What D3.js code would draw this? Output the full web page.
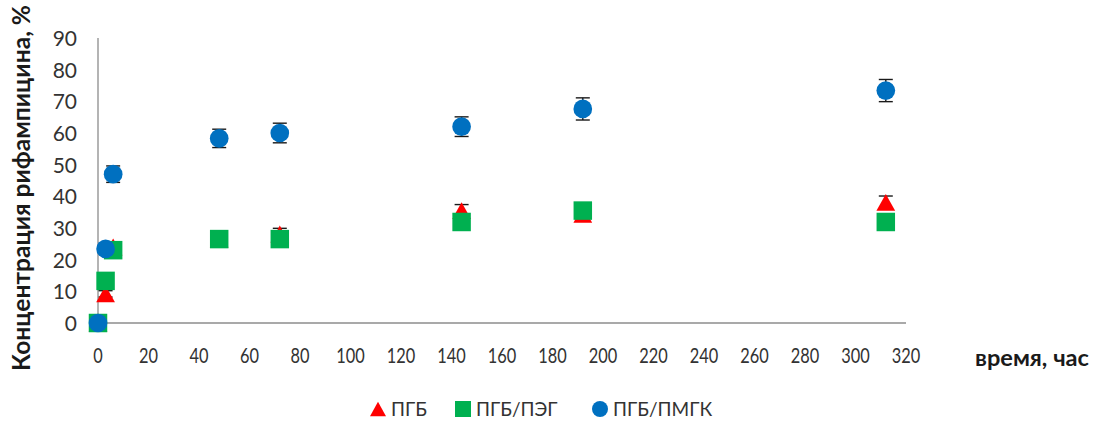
<!DOCTYPE html>
<html>
<head>
<meta charset="utf-8">
<script src="https://cdn.jsdelivr.net/npm/d3@7"></script>
<style>
  html, body { margin: 0; padding: 0; background: #fff; }
  svg { display: block; font-family: Lato, "Open Sans", sans-serif; }
</style>
</head>
<body>
<svg id="chart" width="1095" height="425"></svg>
<script>
// Sampling times, hours
const hours = [0, 3, 6, 48, 72, 144, 192, 312];

// Rifampicin concentration, % (mean and error) for each formulation
const pgbValues  = [0, 9.2, 24.0, 26.5, 28.1, 35.5, 34.3, 38.1];
const pgbErrors  = [0, 1.0, 1.5, 1.5, 1.8, 1.9, 1.5, 2.0];
const pegValues  = [0, 13.3, 23.0, 26.5, 26.5, 31.9, 35.5, 31.9];
const pegErrors  = [0, 1.0, 1.5, 1.5, 1.5, 1.5, 1.5, 1.5];
const pmgkValues = [0, 23.4, 47.0, 58.3, 60.0, 62.0, 67.6, 73.4];
const pmgkErrors = [0, 1.5, 2.6, 2.9, 3.1, 3.1, 3.5, 3.5];

const seriesNames = ["ПГБ", "ПГБ/ПЭГ", "ПГБ/ПМГК"];
const xTicks = [0, 20, 40, 60, 80, 100, 120, 140, 160, 180, 200, 220, 240, 260, 280, 300, 320];
const yTicks = [0, 10, 20, 30, 40, 50, 60, 70, 80, 90];

const yTitle = "Концентрация рифампицина, %";
const xTitle = "время, час";

// Triangle centred on its bounding box, height = 0.9 * width
const boxTriangle = {
  draw(ctx, size) {
    const w = Math.sqrt(size / 0.45), h = 0.9 * w;
    ctx.moveTo(0, -h / 2);
    ctx.lineTo(w / 2, h / 2);
    ctx.lineTo(-w / 2, h / 2);
    ctx.closePath();
  }
};

const series = [
  { name: seriesNames[0], values: pgbValues,  errors: pgbErrors,  color: "#FF0000", shape: boxTriangle,     size: 158, legendSize: 115 },
  { name: seriesNames[1], values: pegValues,  errors: pegErrors,  color: "#00B050", shape: d3.symbolSquare, size: 342, legendSize: 256 },
  { name: seriesNames[2], values: pmgkValues, errors: pmgkErrors, color: "#0070C0", shape: d3.symbolCircle, size: 275, legendSize: 201 }
];

const svg = d3.select("#chart");

const x = d3.scaleLinear().domain([0, 320]).range([98, 906]);
const y = d3.scaleLinear().domain([0, 90]).range([323, 38]);

const axisColor = "#8c8c8c";

// Axes lines
svg.append("line")
  .attr("x1", x(0)).attr("x2", x(0))
  .attr("y1", y(0)).attr("y2", y(90))
  .attr("stroke", axisColor).attr("stroke-width", 1.3);
svg.append("line")
  .attr("x1", x(0)).attr("x2", x(320))
  .attr("y1", y(0)).attr("y2", y(0))
  .attr("stroke", axisColor).attr("stroke-width", 1.3);

// Y tick labels
const yAxis = d3.axisLeft(y).tickValues(yTicks).tickSize(0).tickPadding(0);
const gy = svg.append("g").attr("transform", "translate(77,0)").call(yAxis);
gy.select(".domain").remove();
gy.selectAll("text")
  .attr("font-size", 21).attr("fill", "#333")
  .attr("font-family", "Lato, sans-serif")
  .attr("dy", "0.36em");

// X tick labels (narrow)
const gx = svg.append("g");
gx.selectAll("text").data(xTicks).join("text")
  .attr("transform", d => `translate(${x(d)},363) scale(0.78,1)`)
  .attr("text-anchor", "middle")
  .attr("font-size", 21).attr("fill", "#333")
  .text(d => d);

// Axis titles
svg.append("text")
  .attr("transform", "translate(30,188) rotate(-90)")
  .attr("text-anchor", "middle")
  .attr("font-size", 24).attr("font-weight", "bold").attr("fill", "#1a1a1a")
  .attr("textLength", 366).attr("lengthAdjust", "spacingAndGlyphs")
  .text(yTitle);

svg.append("text")
  .attr("x", 1032).attr("y", 366)
  .attr("text-anchor", "middle")
  .attr("font-size", 22).attr("font-weight", "bold").attr("fill", "#1a1a1a")
  .attr("textLength", 114).attr("lengthAdjust", "spacingAndGlyphs")
  .text(xTitle);

// Data series: error bars sit beneath their markers
const capHalf = 7;
series.forEach(s => {
  const pts = hours.map((h, i) => ({ h, v: s.values[i], e: s.errors[i] }));
  const g = svg.append("g");
  const eb = g.selectAll("g.err").data(pts.filter(d => d.e > 0)).join("g").attr("class", "err")
    .attr("stroke", "#1a1a1a").attr("stroke-width", 1.4);
  eb.append("line")
    .attr("x1", d => x(d.h)).attr("x2", d => x(d.h))
    .attr("y1", d => y(d.v - d.e)).attr("y2", d => y(d.v + d.e));
  eb.append("line")
    .attr("x1", d => x(d.h) - capHalf).attr("x2", d => x(d.h) + capHalf)
    .attr("y1", d => y(d.v + d.e)).attr("y2", d => y(d.v + d.e));
  eb.append("line")
    .attr("x1", d => x(d.h) - capHalf).attr("x2", d => x(d.h) + capHalf)
    .attr("y1", d => y(d.v - d.e)).attr("y2", d => y(d.v - d.e));
  g.selectAll("path.mark").data(pts).join("path")
    .attr("class", "mark")
    .attr("transform", d => `translate(${x(d.h)},${y(d.v)})`)
    .attr("d", d3.symbol().type(s.shape).size(s.size))
    .attr("fill", s.color);
});

// Legend
const legendPos = [378, 463, 600];
const legend = svg.append("g");
series.forEach((s, i) => {
  legend.append("path")
    .attr("transform", `translate(${legendPos[i]},409)`)
    .attr("d", d3.symbol().type(s.shape).size(s.legendSize))
    .attr("fill", s.color);
  legend.append("text")
    .attr("x", legendPos[i] + 13).attr("y", 416)
    .attr("font-size", 19).attr("fill", "#333")
    .text(s.name);
});
</script>
</body>
</html>
